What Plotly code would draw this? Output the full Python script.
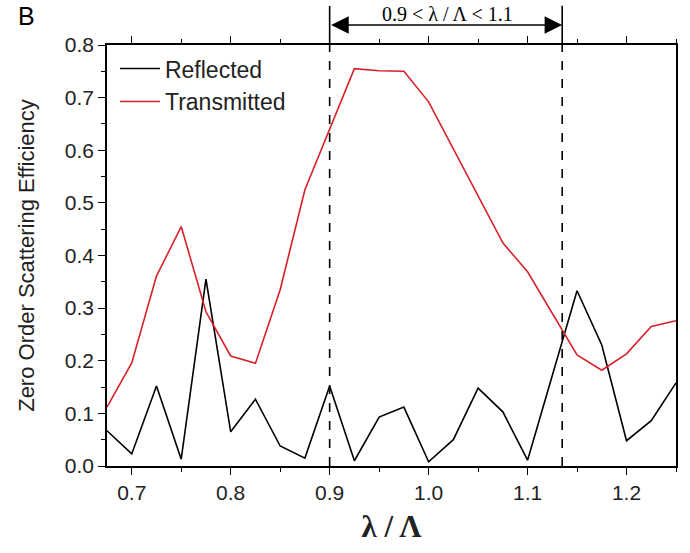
import plotly.graph_objects as go

x_vals = [0.675, 0.7, 0.725, 0.75, 0.775, 0.8, 0.825, 0.85, 0.875, 0.9, 0.925, 0.95,
          0.975, 1.0, 1.025, 1.05, 1.075, 1.1, 1.125, 1.15, 1.175, 1.2, 1.225, 1.25]
reflected = [0.067, 0.023, 0.152, 0.013, 0.355, 0.065, 0.127, 0.038, 0.015, 0.152, 0.010, 0.093,
             0.112, 0.008, 0.050, 0.148, 0.103, 0.011, 0.172, 0.333, 0.230, 0.048, 0.086, 0.158]
transmitted = [0.112, 0.196, 0.361, 0.455, 0.293, 0.209, 0.195, 0.335, 0.525, 0.639, 0.755, 0.751,
               0.750, 0.692, 0.603, 0.513, 0.424, 0.369, 0.290, 0.211, 0.182, 0.213, 0.265, 0.276]
band = [0.9, 1.135]
band_label = "0.9 < λ / Λ < 1.1"

fig = go.Figure()
fig.add_trace(go.Scatter(x=x_vals, y=reflected, mode="lines", name="Reflected",
                         line=dict(color="black", width=1.6)))
fig.add_trace(go.Scatter(x=x_vals, y=transmitted, mode="lines", name="Transmitted",
                         line=dict(color="#d8202a", width=1.6)))

for bx in band:
    fig.add_shape(type="line", xref="x", yref="paper", x0=bx, x1=bx, y0=0, y1=1,
                  line=dict(color="black", width=1.6, dash="dash"))
    fig.add_shape(type="line", xref="x", yref="paper", x0=bx, x1=bx, y0=1, y1=1.093,
                  line=dict(color="black", width=1.6))

fig.add_annotation(x=band[1], y=1.0475, ax=band[0], ay=0, xref="x", yref="paper",
                   axref="x", ayref="pixel", text="", showarrow=True,
                   arrowhead=2, arrowside="end+start", arrowsize=2.2, arrowwidth=1.6,
                   arrowcolor="black", startarrowhead=2, startarrowsize=2.2)
fig.add_annotation(x=1.019, y=1.073, xref="x", yref="paper",
                   text=band_label, showarrow=False, yanchor="middle",
                   font=dict(family="Liberation Serif", size=20, color="black"))
fig.add_annotation(x=-0.142, y=1.069, xref="paper", yref="paper", text="B",
                   showarrow=False, xanchor="center", yanchor="middle",
                   font=dict(family="Liberation Sans", size=25, color="black"))

fig.update_layout(
    width=690, height=553,
    margin=dict(l=107, r=12, t=45, b=87),
    paper_bgcolor="white", plot_bgcolor="white",
    font=dict(family="Liberation Sans", size=21, color="#222"),
    showlegend=True,
    legend=dict(x=0.014, y=0.995, xanchor="left", yanchor="top",
                bgcolor="rgba(0,0,0,0)", font=dict(size=23, color="#222"),
                tracegroupgap=0, itemwidth=40),
)
fig.update_xaxes(
    range=[0.675, 1.25], tickmode="array",
    tickvals=[0.7, 0.8, 0.9, 1.0, 1.1, 1.2],
    ticktext=["0.7", "0.8", "0.9", "1.0", "1.1", "1.2"],
    ticks="outside", ticklen=7, tickwidth=1.3, tickcolor="black",
    minor=dict(tickvals=[0.75, 0.85, 0.95, 1.05, 1.15, 1.25], ticks="outside",
               ticklen=4, tickwidth=1.3, tickcolor="black"),
    showline=True, linecolor="black", linewidth=1.5, mirror="ticks",
    showgrid=False, zeroline=False,
    title=dict(text="<b>λ / Λ</b>", font=dict(family="Liberation Serif", size=31, color="#222"),
               standoff=12),
)
fig.update_yaxes(
    range=[0, 0.8], tickmode="array",
    tickvals=[0, 0.1, 0.2, 0.3, 0.4, 0.5, 0.6, 0.7, 0.8],
    ticktext=["0.0", "0.1", "0.2", "0.3", "0.4", "0.5", "0.6", "0.7", "0.8"],
    ticks="outside", ticklen=7, tickwidth=1.3, tickcolor="black",
    minor=dict(tickvals=[0.05, 0.15, 0.25, 0.35, 0.45, 0.55, 0.65, 0.75], ticks="outside",
               ticklen=4, tickwidth=1.3, tickcolor="black"),
    showline=True, linecolor="black", linewidth=1.5, mirror=True,
    showgrid=False, zeroline=False,
    title=dict(text="Zero Order Scattering Efficiency", font=dict(size=22, color="#222"),
               standoff=24),
)

fig.write_html("out.html")
